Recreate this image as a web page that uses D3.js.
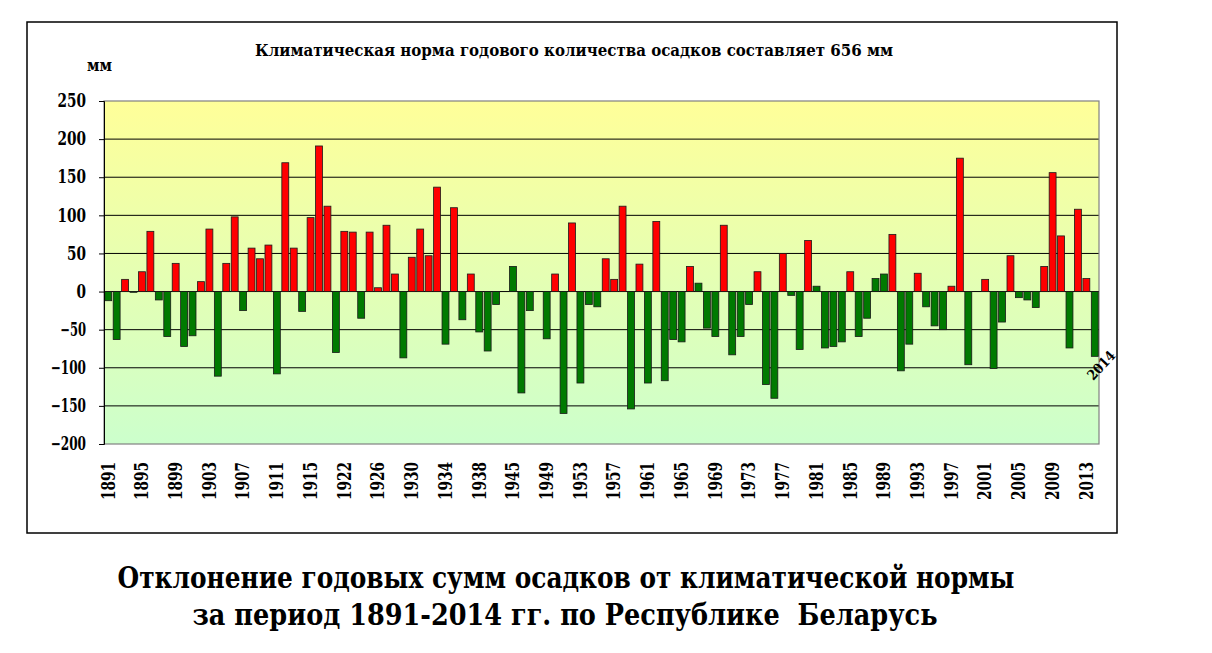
<html>
<head>
    <meta charset="UTF-8">
    <title>Отклонение годовых сумм осадков</title>
    <script src="https://d3js.org/d3.v7.min.js"></script>
    <style>
        body { margin: 0; background: #fff; }
        svg text { font-family: "DejaVu Serif", serif; font-weight: bold; }
    </style>
</head>
<body>
    <svg width="1212" height="653"></svg>
    <script>
        // годы (1918-1920 и 1941-1943 в ряду отсутствуют)
        var years = [
            '1891','1892','1893','1894','1895','1896','1897','1898','1899','1900',
            '1901','1902','1903','1904','1905','1906','1907','1908','1909','1910',
            '1911','1912','1913','1914','1915','1916','1917','1921','1922','1923',
            '1924','1925','1926','1927','1928','1929','1930','1931','1932','1933',
            '1934','1935','1936','1937','1938','1939','1940','1944','1945','1946',
            '1947','1948','1949','1950','1951','1952','1953','1954','1955','1956',
            '1957','1958','1959','1960','1961','1962','1963','1964','1965','1966',
            '1967','1968','1969','1970','1971','1972','1973','1974','1975','1976',
            '1977','1978','1979','1980','1981','1982','1983','1984','1985','1986',
            '1987','1988','1989','1990','1991','1992','1993','1994','1995','1996',
            '1997','1998','1999','2000','2001','2002','2003','2004','2005','2006',
            '2007','2008','2009','2010','2011','2012','2013','2014'
        ];
        // отклонение от нормы, мм
        var deviation = [
            -12, -63, 16, -1, 26, 79, -11, -59, 37, -72,
            -58, 13, 82, -111, 37, 98, -25, 57, 43, 61,
            -108, 169, 57, -26, 97, 191, 112, -80, 79, 78,
            -35, 78, 5, 87, 23, -87, 45, 82, 47, 137,
            -69, 110, -37, 23, -53, -78, -17, 0, 33, -133,
            -25, 0, -62, 23, -160, 90, -120, -17, -20, 43,
            16, 112, -154, 36, -120, 92, -117, -63, -66, 33,
            11, -48, -59, 87, -83, -59, -17, 26, -122, -140,
            50, -5, -76, 67, 7, -74, -72, -66, 26, -59,
            -35, 17, 23, 75, -104, -69, 24, -20, -45, -50,
            7, 175, -96, 0, 16, -101, -40, 47, -8, -11,
            -21, 33, 156, 73, -74, 108, 17, -85
        ];
        // годы с положительным отклонением, закрашенные зелёным на оригинале
        var greenPositive = ['1945', '1967', '1981', '1988', '1989'];
        var yTicks = [250, 200, 150, 100, 50, 0, -50, -100, -150, -200];

        var data = years.map((y, i) => ({ year: y, value: deviation[i] }));

        var svg = d3.select('svg'),
            plot = { left: 104, right: 1099, top: 101, bottom: 444 },
            serif = '"DejaVu Serif", serif';

        // ширина подписи как у Times: цифра 0.5em, минус 0.33em
        var tickWidth = (s, size) => s.split('').reduce((w, c) => w + (c === '-' || c === '−' ? 0.36 : 0.5), 0) * size;

        // рамка диаграммы
        svg.append('rect')
            .attr('x', 27).attr('y', 22)
            .attr('width', 1090).attr('height', 511)
            .attr('fill', '#fff').attr('stroke', '#000').attr('stroke-width', 1.5);

        var x_scale = d3.scaleBand().domain(years)
            .range([plot.left, plot.right])
            .paddingInner(0.18).paddingOuter(0.09);
        var y_scale = d3.scaleLinear().domain([-200, 250]).range([plot.bottom, plot.top]);

        // фон: от жёлтого сверху к светло-зелёному снизу
        var grad = svg.append('defs').append('linearGradient')
            .attr('id', 'bg').attr('x1', 0).attr('y1', 0).attr('x2', 0).attr('y2', 1);
        grad.append('stop').attr('offset', '0%').attr('stop-color', '#ffff99');
        grad.append('stop').attr('offset', '100%').attr('stop-color', '#ccffcc');

        svg.append('rect')
            .attr('x', plot.left).attr('y', plot.top)
            .attr('width', plot.right - plot.left).attr('height', plot.bottom - plot.top)
            .attr('fill', 'url(#bg)');

        // сетка
        svg.append('g').selectAll('line')
            .data(yTicks.filter(d => d !== 250 && d !== -200))
            .join('line')
            .attr('x1', plot.left).attr('x2', plot.right)
            .attr('y1', d => y_scale(d)).attr('y2', d => y_scale(d))
            .attr('stroke', '#000').attr('stroke-width', 1);

        // рамка области построения
        svg.append('rect')
            .attr('x', plot.left).attr('y', plot.top)
            .attr('width', plot.right - plot.left).attr('height', plot.bottom - plot.top)
            .attr('fill', 'none').attr('stroke', '#808080').attr('stroke-width', 1.2);

        // столбики
        svg.append('g').selectAll('rect')
            .data(data.filter(d => d.value !== 0))
            .join('rect')
            .attr('x', d => x_scale(d.year))
            .attr('width', x_scale.bandwidth())
            .attr('y', d => y_scale(Math.max(0, d.value)))
            .attr('height', d => Math.abs(y_scale(d.value) - y_scale(0)))
            .attr('fill', d => (d.value > 0 && greenPositive.indexOf(d.year) < 0) ? '#ff0000' : '#007a00')
            .attr('stroke', '#1a1a1a').attr('stroke-width', 0.8);

        // ось Y
        var yAxis = svg.append('g')
            .attr('transform', 'translate(' + plot.left + ',0)')
            .call(d3.axisLeft(y_scale).tickValues(yTicks).tickSize(5).tickPadding(13))
            .attr('font-family', serif).attr('font-size', 18).attr('font-weight', 'bold');
        yAxis.select('.domain').attr('stroke', '#000');
        yAxis.selectAll('.tick line').attr('stroke', '#000');
        yAxis.selectAll('text').attr('fill', '#000')
            .attr('textLength', function () { return tickWidth(this.textContent, 19); })
            .attr('lengthAdjust', 'spacingAndGlyphs');

        // ось X — подписи каждого четвёртого года
        var xAxis = svg.append('g')
            .attr('transform', 'translate(0,' + plot.bottom + ')')
            .call(d3.axisBottom(x_scale).tickValues(years.filter((d, i) => i % 4 === 0)).tickSize(0))
            .attr('font-family', serif).attr('font-size', 18).attr('font-weight', 'bold');
        xAxis.select('.domain').remove();
        xAxis.selectAll('text')
            .attr('fill', '#000')
            .attr('transform', 'rotate(-90)')
            .attr('text-anchor', 'end')
            .attr('x', -18).attr('y', 0).attr('dy', '0.35em')
            .attr('textLength', function () { return tickWidth(this.textContent, 19); })
            .attr('lengthAdjust', 'spacingAndGlyphs');

        // подпись последнего столбика
        var last = data[data.length - 1];
        var lx = x_scale(last.year) + x_scale.bandwidth() + 3,
            ly = y_scale(last.value) + 9;
        svg.append('text')
            .attr('transform', 'translate(' + lx + ',' + ly + ') rotate(-47)')
            .attr('text-anchor', 'middle').attr('dy', '0.35em')
            .attr('font-family', serif).attr('font-size', 14)
            .attr('textLength', 34).attr('lengthAdjust', 'spacingAndGlyphs')
            .text(last.year);

        // единицы и заголовок
        svg.append('text').attr('x', 87).attr('y', 71)
            .attr('font-family', serif).attr('font-size', 16)
            .attr('textLength', 25).attr('lengthAdjust', 'spacingAndGlyphs')
            .text('мм');
        svg.append('text').attr('x', 574).attr('y', 56)
            .attr('text-anchor', 'middle').attr('font-family', serif).attr('font-size', 17)
            .attr('textLength', 638).attr('lengthAdjust', 'spacingAndGlyphs')
            .text('Климатическая норма годового количества осадков составляет 656 мм');

        // подпись под диаграммой
        svg.append('text').attr('x', 566).attr('y', 588)
            .attr('text-anchor', 'middle').attr('font-family', serif).attr('font-size', 29)
            .attr('textLength', 897).attr('lengthAdjust', 'spacingAndGlyphs')
            .text('Отклонение годовых сумм осадков от климатической нормы');
        svg.append('text').attr('x', 565).attr('y', 625)
            .attr('text-anchor', 'middle').attr('font-family', serif).attr('font-size', 29)
            .attr('xml:space', 'preserve')
            .attr('textLength', 745).attr('lengthAdjust', 'spacingAndGlyphs')
            .text('за период 1891-2014 гг. по Республике  Беларусь');
    </script>
</body>
</html>
